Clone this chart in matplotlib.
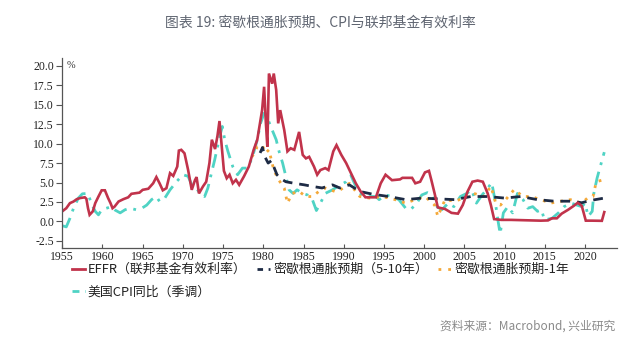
import matplotlib
matplotlib.use("Agg")
import matplotlib.pyplot as plt
from matplotlib.lines import Line2D

plt.rcParams['font.family'] = ['Noto Sans CJK SC', 'DejaVu Sans']

# ---------------- data ----------------
effr_year = [1955.0, 1955.5, 1955.95, 1956.4, 1956.8, 1957.2, 1957.8, 1958.0, 1958.2, 1958.4,
             1958.8, 1959.1, 1959.5, 1959.9, 1960.3, 1960.7, 1961.0, 1961.25, 1961.5, 1962.0,
             1962.6, 1963.2, 1963.6, 1964.6, 1965.0, 1965.7, 1966.3, 1966.7, 1967.1, 1967.5,
             1967.95, 1968.4, 1968.8, 1969.3, 1969.5, 1969.8, 1970.2, 1970.65, 1971.1, 1971.5,
             1971.7, 1972.0, 1972.5, 1972.9, 1973.3, 1973.6, 1974.0, 1974.3, 1974.55, 1974.8,
             1975.1, 1975.45, 1975.8, 1976.2, 1976.6, 1977.0, 1977.6, 1978.2, 1978.8, 1979.25,
             1979.85, 1980.1, 1980.3, 1980.5, 1980.7, 1981.1, 1981.3, 1981.6, 1981.85, 1982.1,
             1982.6, 1983.0, 1983.4, 1983.85, 1984.45, 1984.9, 1985.3, 1985.7, 1986.3, 1986.7,
             1987.1, 1987.7, 1988.1, 1988.7, 1989.1, 1989.7, 1990.3, 1990.9, 1991.5, 1992.1,
             1992.7, 1994.0, 1994.6, 1995.2, 1996.0, 1997.0, 1997.3, 1998.5, 1998.9, 1999.5,
             2000.1, 2000.6, 2000.9, 2001.3, 2001.7, 2002.6, 2003.4, 2004.2, 2004.8, 2005.4,
             2006.0, 2006.65, 2007.3, 2007.9, 2008.3, 2008.7, 2009.6, 2010.8, 2012.5, 2014.5,
             2015.4, 2015.9, 2016.5, 2017.1, 2017.9, 2018.6, 2019.1, 2019.6, 2020.1, 2020.9,
             2022.1, 2022.4]
effr_val = [1.3, 1.7, 2.35, 2.56, 2.86, 3.0, 3.1, 2.9, 1.7, 0.85,
            1.3, 2.35, 3.2, 4.0, 4.0, 3.0, 2.35, 1.7, 1.9, 2.56,
            2.86, 3.1, 3.55, 3.7, 4.06, 4.2, 4.9, 5.7, 4.9, 4.0,
            4.27, 6.2, 5.85, 7.05, 9.1, 9.2, 8.75, 6.6, 4.06, 5.3,
            5.7, 3.6, 4.5, 5.1, 7.5, 10.5, 9.3, 11.0, 12.9, 10.0,
            6.5, 5.55, 6.0, 4.9, 5.35, 4.7, 5.8, 7.05, 9.2, 10.5,
            14.3, 17.3, 13.0, 9.6, 19.0, 17.7, 19.0, 16.9, 12.6, 14.3,
            11.75, 9.0, 9.4, 9.2, 11.5, 8.55, 8.1, 8.3, 7.05, 6.0,
            6.6, 6.85, 6.6, 9.0, 9.8, 8.55, 7.5, 6.2, 4.9, 3.85,
            3.1, 3.1, 4.9, 6.0, 5.3, 5.4, 5.6, 5.6, 4.9, 5.1,
            6.3, 6.5, 5.3, 3.6, 1.8, 1.6, 1.1, 1.0, 2.1, 3.85,
            5.1, 5.25, 5.1, 3.6, 2.1, 0.3, 0.2, 0.2, 0.15, 0.1,
            0.13, 0.4, 0.4, 1.0, 1.5, 2.0, 2.4, 2.0, 0.1, 0.1,
            0.08, 1.2]

mich510_year = [1979.6, 1979.9, 1980.2, 1980.6, 1981.0, 1981.7, 1982.1, 1982.8, 1983.85, 1985.1,
                1986.1, 1987.3, 1988.6, 1989.5, 1990.7, 1992.0, 1993.6, 1995.6, 1997.7, 1999.7,
                2001.7, 2003.8, 2005.8, 2007.9, 2010.0, 2012.0, 2014.1, 2016.2, 2018.3, 2019.6,
                2020.7, 2022.4]
mich510_val = [8.8, 9.5, 8.3, 7.5, 7.8, 6.0, 5.55, 5.1, 4.9, 4.7,
               4.5, 4.3, 4.7, 4.3, 4.7, 3.85, 3.5, 3.2, 2.8, 3.0,
               2.9, 2.8, 3.2, 3.2, 3.0, 3.2, 2.8, 2.6, 2.6, 2.4,
               2.7, 3.0]

mich1_year = [1978.6, 1979.25, 1979.85, 1980.3, 1980.7, 1981.3, 1981.9, 1982.6, 1983.0, 1983.6,
              1984.45, 1985.3, 1986.1, 1986.9, 1987.7, 1988.9, 1989.5, 1990.7, 1992.0, 1993.2,
              1994.8, 1996.4, 1997.7, 1998.9, 2000.1, 2001.3, 2001.7, 2002.6, 2003.8, 2005.0,
              2006.2, 2007.4, 2008.3, 2008.9, 2009.5, 2010.3, 2011.2, 2012.3, 2013.3, 2014.5,
              2015.7, 2017.0, 2018.2, 2019.6, 2020.3, 2021.0, 2021.4, 2022.1, 2022.4]
mich1_val = [8.3, 9.6, 9.8, 8.8, 9.2, 6.6, 5.35, 4.3, 2.35, 3.6,
             3.85, 3.2, 3.2, 3.85, 4.3, 3.85, 4.0, 4.9, 3.2, 3.0,
             3.2, 2.8, 2.35, 2.8, 3.2, 2.1, 0.65, 2.8, 2.6, 3.0,
             3.6, 3.2, 4.5, 2.35, 2.1, 3.0, 4.1, 3.2, 3.2, 2.8,
             2.35, 2.6, 2.8, 2.35, 3.0, 3.2, 5.1, 5.3, 5.1]

cpi_year = [1955.0, 1955.5, 1955.95, 1956.4, 1957.0, 1957.5, 1958.2, 1958.6, 1959.1, 1959.5,
            1959.9, 1960.5, 1961.1, 1961.5, 1962.2, 1962.8, 1963.4, 1964.2, 1964.9, 1965.5,
            1966.1, 1966.7, 1967.1, 1967.75, 1968.4, 1969.2, 1970.0, 1970.65, 1971.1, 1971.7,
            1972.1, 1972.7, 1973.1, 1973.55, 1973.95, 1974.6, 1974.9, 1975.2, 1975.6, 1976.2,
            1976.8, 1977.4, 1978.0, 1978.6, 1979.25, 1979.65, 1980.1, 1980.5, 1981.1, 1981.6,
            1981.9, 1982.4, 1982.8, 1983.2, 1983.7, 1984.2, 1984.9, 1985.5, 1986.1, 1986.6,
            1987.1, 1987.7, 1988.6, 1989.4, 1990.3, 1990.9, 1991.5, 1992.0, 1992.7, 1994.0,
            1994.4, 1995.2, 1996.0, 1996.85, 1997.7, 1998.3, 1999.1, 1999.7, 2000.4, 2001.0,
            2001.6, 2002.2, 2003.0, 2003.7, 2004.5, 2005.3, 2005.9, 2006.5, 2007.2, 2007.8,
            2008.4, 2008.8, 2009.2, 2009.45, 2009.85, 2010.4, 2011.0, 2011.6, 2012.3, 2012.9,
            2013.5, 2014.1, 2014.6, 2014.95, 2015.9, 2016.7, 2017.4, 2018.3, 2019.0, 2019.6,
            2020.0, 2020.4, 2020.9, 2021.1, 2021.5, 2021.9, 2022.4]
cpi_val = [-0.55, -0.7, 0.4, 1.7, 3.0, 3.55, 3.6, 2.35, 1.3, 0.85,
           1.5, 1.7, 1.9, 1.5, 1.1, 1.5, 1.7, 1.5, 1.7, 2.1,
           2.8, 3.2, 2.56, 3.0, 4.06, 5.1, 6.0, 5.8, 4.7, 4.27,
           3.6, 3.2, 4.27, 6.2, 7.9, 11.0, 12.2, 10.5, 9.0, 7.05,
           6.0, 6.85, 6.85, 8.1, 10.5, 12.6, 13.9, 13.3, 11.75, 10.5,
           9.2, 7.5, 5.8, 4.06, 3.6, 4.06, 3.6, 3.4, 2.8, 1.4,
           2.35, 3.6, 4.06, 4.6, 5.1, 5.9, 4.5, 3.6, 3.2, 3.2,
           2.8, 3.4, 3.2, 2.8, 1.7, 1.5, 2.35, 3.4, 3.7, 3.4,
           1.9, 1.5, 2.35, 1.9, 3.2, 3.6, 4.06, 2.35, 3.4, 4.1,
           5.0, 2.8, 0.0, -1.6, 1.1, 1.9, 1.1, 3.6, 2.8, 1.7,
           1.9, 1.3, 1.5, 0.2, 0.4, 1.1, 1.9, 2.35, 2.1, 1.9,
           2.35, 0.65, 1.3, 3.6, 5.55, 7.05, 8.9]

y_ticks = [-2.5, 0.0, 2.5, 5.0, 7.5, 10.0, 12.5, 15.0, 17.5, 20.0]
x_ticks = [1955, 1960, 1965, 1970, 1975, 1980, 1985, 1990, 1995, 2000, 2005, 2010, 2015, 2020]

labels = ['EFFR（联邦基金有效利率）', '密歇根通胀预期（5-10年）', '密歇根通胀预期-1年', '美国CPI同比（季调）']
colors = ['#C1334B', '#1E2B45', '#F4A93A', '#4FD3C4']

# ---------------- figure ----------------
fig = plt.figure(figsize=(6.4, 3.41), dpi=100)
ax = fig.add_axes([0.0973, 0.273, 0.867, 0.557])

ax.plot(cpi_year, cpi_val, color=colors[3], lw=2.0, linestyle=(0, (5, 2.5, 1, 2.5)))
ax.plot(mich1_year, mich1_val, color=colors[2], lw=2.0, linestyle=(0, (1, 2.2)))
ax.plot(mich510_year, mich510_val, color=colors[1], lw=2.0, linestyle=(0, (3.5, 2.5)))
ax.plot(effr_year, effr_val, color=colors[0], lw=1.9, solid_joinstyle='miter')

ax.set_xlim(1955, 2024)
ax.set_ylim(-3.4, 21)
ax.set_xticks(x_ticks)
ax.set_yticks(y_ticks)
ax.set_yticklabels([f'{v:.1f}' for v in y_ticks])

for s in ['top', 'right']:
    ax.spines[s].set_visible(False)
for s in ['left', 'bottom']:
    ax.spines[s].set_color('#555555')
    ax.spines[s].set_linewidth(0.9)

ax.tick_params(axis='y', direction='out', length=4, width=0.8, colors='#555555', pad=2)
ax.tick_params(axis='x', direction='in', length=3, width=0.8, colors='#555555', pad=2)
for lab in ax.get_xticklabels() + ax.get_yticklabels():
    lab.set_fontfamily('Liberation Serif')
    lab.set_fontsize(8.5)
    lab.set_color('#222222')

ax.text(0.008, 0.985, '%', transform=ax.transAxes, fontsize=7.5, va='top', ha='left',
        color='#333333', family='Liberation Serif')

fig.text(0.5, 0.935, '图表 19: 密歇根通胀预期、CPI与联邦基金有效利率', ha='center', va='center',
         fontsize=10, color='#5f6571', fontweight='medium')

handles = [
    Line2D([], [], color=colors[0], lw=2.0),
    Line2D([], [], color=colors[1], lw=2.0, linestyle=(0, (2.0, 2.0))),
    Line2D([], [], color=colors[2], lw=2.0, linestyle=(0, (1, 2.5))),
    Line2D([], [], color=colors[3], lw=2.0, linestyle=(0, (2.5, 2.0, 1, 2.0))),
]
# matplotlib fills legend columns first: reorder so rows read EFFR, 5-10y, 1y / CPI
order = [0, 3, 1, 2]
fig.legend([handles[i] for i in order], [labels[i] for i in order], ncol=3, loc='upper left',
           bbox_to_anchor=(0.112, 0.228),
           frameon=False, fontsize=9.3, handlelength=1.0, handletextpad=0.25,
           columnspacing=0.8, labelspacing=0.75, borderaxespad=0, borderpad=0,
           labelcolor='#222222')

fig.text(0.962, 0.045, '资料来源：Macrobond, 兴业研究', ha='right', va='center',
         fontsize=8.5, color='#8a8a8a')

fig.savefig('out.png', dpi=100)
